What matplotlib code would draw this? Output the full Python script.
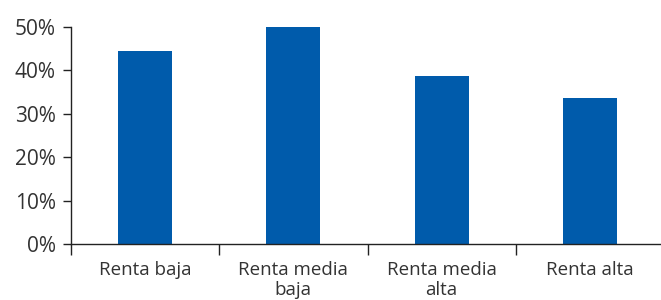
import matplotlib.pyplot as plt
from matplotlib.ticker import FixedLocator, PercentFormatter

categories = ['Renta baja', 'Renta media\nbaja', 'Renta media\nalta', 'Renta alta']
values = [44.5, 50.0, 38.7, 33.6]
yticks = [0, 10, 20, 30, 40, 50]

plt.rcParams['font.family'] = ['Open Sans', 'DejaVu Sans']

fig = plt.figure(figsize=(6.61, 3.0), dpi=100)
ax = fig.add_axes([71 / 661, 56 / 300, 593 / 661, 217 / 300])

x = range(len(categories))
ax.bar(x, values, width=0.365, color='#005bab', zorder=2)

ax.set_xlim(-0.5, 3.5)
ax.set_ylim(0, 50)
ax.set_yticks(yticks)
ax.yaxis.set_major_formatter(PercentFormatter(decimals=0))

ax.set_xticks(list(x))
ax.set_xticklabels(categories, linespacing=1.15)
ax.xaxis.set_minor_locator(FixedLocator([-0.5, 0.5, 1.5, 2.5]))
ax.tick_params(axis='x', which='major', length=0, pad=12, labelsize=13.5, labelcolor='#333333')
ax.tick_params(axis='x', which='minor', length=8, width=1, color='#222222', direction='out')
ax.tick_params(axis='y', length=6, width=1, color='#222222', pad=5, labelsize=15, labelcolor='#333333')

for s in ['top', 'right']:
    ax.spines[s].set_visible(False)
for s in ['left', 'bottom']:
    ax.spines[s].set_color('#222222')
    ax.spines[s].set_linewidth(1)

fig.savefig('out.png', dpi=100)
